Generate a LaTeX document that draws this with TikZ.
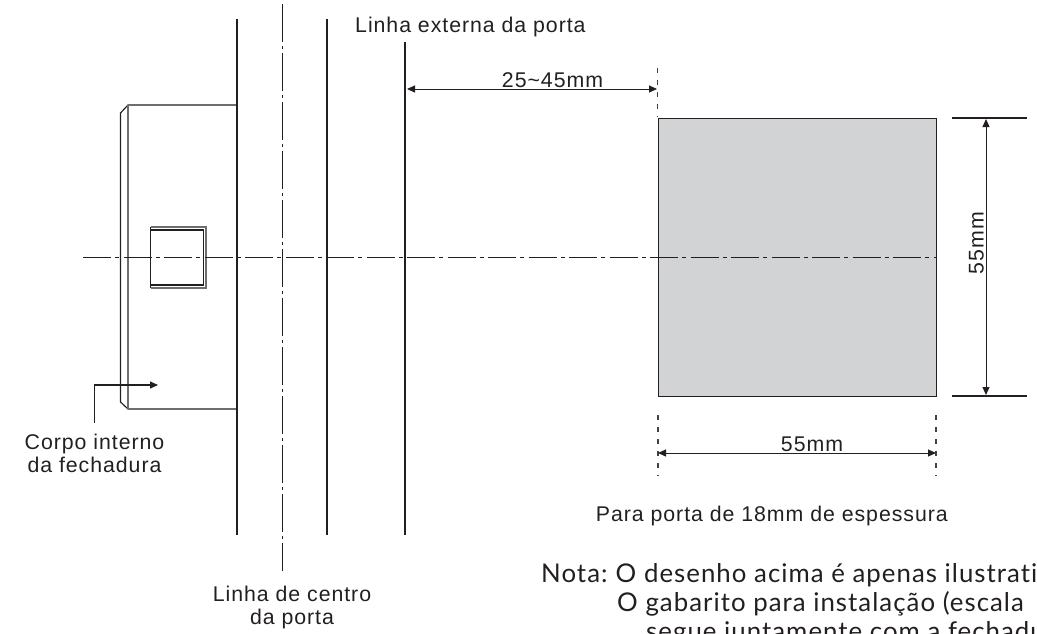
\documentclass[tikz,border=0pt]{standalone}
\usepackage{fontspec}
\setmainfont[LetterSpace=4.5]{Liberation Sans}
\newfontfamily\notafont[LetterSpace=4,Ligatures=NoCommon]{Lato}
\usetikzlibrary{arrows.meta}
\definecolor{ink}{HTML}{231F20}
\definecolor{fillgray}{HTML}{D1D3D4}
\tikzset{
 x=1pt,y=-1pt,
 heavy/.style={draw=ink,line width=1.8pt},
 thin line/.style={draw=ink,line width=1.15pt},
 grayline/.style={draw=ink!65,line width=1.3pt},
 centerv/.style={draw=ink,line width=1pt,dash pattern=on 38pt off 4pt on 3pt off 4pt},
 centerh/.style={draw=ink,line width=1pt,dash pattern=on 28pt off 4.2pt on 4pt off 4.3pt},
 extline/.style={draw=ink!85,line width=1.1pt,dash pattern=on 5pt off 7pt},
 tip/.tip={Triangle[length=8pt,width=7pt]},
 dim/.style={draw=ink,line width=1pt,tip-tip},
 lbl/.style={font=\fontsize{21.3}{23}\selectfont,text=ink,inner sep=0pt,align=center},
 nota/.style={font=\notafont\fontsize{25.8}{29}\selectfont,text=ink,inner sep=0pt,anchor=base west},
}
\begin{document}
\begin{tikzpicture}
\useasboundingbox (0,0) rectangle (1037,633);
% doors
\coordinate (d1t) at (237,19); \coordinate (d1b) at (237,535);
\coordinate (d2t) at (327,19); \coordinate (d2b) at (327,535);
\coordinate (d3t) at (405,42); \coordinate (d3b) at (405,535);
\draw[heavy] (d1t)--(d1b); \draw[heavy] (d2t)--(d2b); \draw[heavy] (d3t)--(d3b);
\coordinate (ct) at (282.5,4); \coordinate (cb) at (282.5,571);
\draw[centerv] (ct)--(cb);
% lock body
\draw[thin line] (237,105)--(128,105)--(120.5,113)--(120.5,402)--(128,409)--(237,409);
\draw[grayline] (128,105)--(128,409);
% square
\draw[grayline] (150.7,227)--(206,227)--(206,288)--(150.7,288);
\draw[thin line] (150.7,227) -- (150.7,288);
\draw[thin line] (150.7,230)--(203.7,230)--(203.7,285)--(150.7,285);
% cut-out
\node[name=hole,draw=ink,line width=1pt,fill=fillgray,inner sep=0pt,minimum width=278pt,minimum height=278pt,anchor=north west] at (658,118) {};
% axis
\coordinate (al) at (83,257.5); \coordinate (ar) at (937,257.5);
\draw[centerh] (al)--(ar);
% lead arrow
\coordinate (leadb) at (94.5,423); \coordinate (leadk) at (94.5,385); \coordinate (leadh) at (158,385);
\draw[thin line,-tip] (leadb)--(leadk)--(leadh);
% extension lines
\draw[extline] (657.6,68)--(657.6,117);
\draw[extline] (658,415)--(658,476);
\draw[extline] (936,415)--(936,476);
\draw[thin line] (952,118)--(1027,118);
\draw[thin line] (952,396)--(1027,396);
% dimensions
\coordinate (a1) at (407,89); \coordinate (a2) at (657,89);
\draw[dim] (a1)--(a2);
\coordinate (b1) at (658,453); \coordinate (b2) at (936,453);
\draw[dim] (b1)--(b2);
\coordinate (c1) at (986,119); \coordinate (c2) at (986,395);
\draw[dim] (c1)--(c2);
% labels
\node[lbl,anchor=base west] (t1) at (355,32) {Linha externa da porta};
\node[lbl,anchor=base] (t2) at (552.5,87) {25\char`\~45mm};
\node[lbl,anchor=base] (t3) at (812,451) {55mm};
\node[lbl,anchor=base,rotate=90] (t4) at (983.5,243) {55mm};
\node[lbl,anchor=base] (t5a) at (94.5,449) {Corpo interno};
\node[lbl,anchor=base] (t5b) at (94.5,472) {da fechadura};
\node[lbl,anchor=base east] (t6) at (948,521) {Para porta de 18mm de espessura};
\node[lbl,anchor=base] (t7a) at (292,601) {Linha de centro};
\node[lbl,anchor=base] (t7b) at (292,624) {da porta};
\node[nota] (n1) at (541,582) {Nota: \kern-2pt O desenho acima é apenas ilustrativ};
\node[nota] (n2) at (617,611) {O gabarito para instalação (escala};
\node[nota] (n3) at (646,640) {segue juntamente com a fechadur};
\end{tikzpicture}
\end{document}
